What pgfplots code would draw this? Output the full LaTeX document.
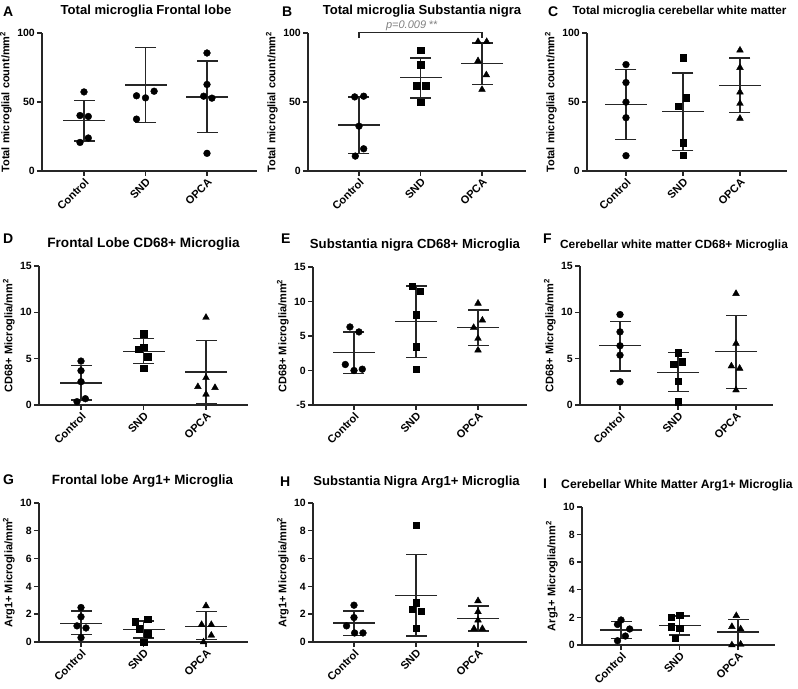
\documentclass[border=0pt]{standalone}
\usepackage{fontspec}
\setmainfont{Liberation Sans}
\usepackage{pgfplots}
\pgfplotsset{compat=1.18}
\colorlet{ink}{black!85}
\newcommand\fs[1]{\fontsize{#1bp}{#1bp}\selectfont\bfseries}
\pgfplotsset{
  gp/.style={
    scale only axis, clip=false, anchor=south west,
    axis lines=left, axis line style={-, line width=1.5bp, draw=ink},
    tick align=outside, major tick length=5bp,
    tick style={line width=1.4bp, draw=ink},
    xtick={1,2,3}, xticklabels={Control,SND,OPCA},
    xticklabel style={rotate=45, anchor=north east, inner sep=1bp, font=\fs{11}},
    yticklabel style={font=\fs{10.5}, inner sep=2bp},
    /pgf/number format/assume math mode=true,
    ylabel style={font=\fs{11}},
  },
  pC/.style={only marks, mark=*, mark size=3.4bp, mark options={fill=black, draw=black}},
  pS/.style={only marks, mark=square*, mark size=3.2bp, mark options={fill=black, draw=black}},
  pT/.style={only marks, mark=triangle*, mark size=3.9bp, mark options={fill=black, draw=black}},
  sdl/.style={ink, line width=1.3bp, mark=-, mark size=10.5bp, mark options={solid, line width=1.3bp}},
  meanl/.style={only marks, mark=-, mark size=21bp, mark options={ink, line width=1.3bp}},
}
% group: x, mean-SD, mean, mean+SD
\newcommand\grp[4]{%
  \addplot[sdl] coordinates {(#1,#2) (#1,#4)};
  \addplot[meanl] coordinates {(#1,#3)};
}
\begin{document}
\begin{tikzpicture}
\path[use as bounding box] (0,0) rectangle (798bp,689bp);

% ---- A
\begin{axis}[gp, at={(42bp,518bp)}, width=215bp, height=138bp,
  xmin=0.317, xmax=3.813, ymin=0, ymax=100, ytick={0,50,100},
  ylabel={Total microglial count/mm\textsuperscript{2}}]
\grp{1}{21.7}{36.4}{51.1}
\grp{2}{35.2}{62.4}{89.4}
\grp{3}{27.7}{53.7}{79.8}
\addplot[pC] coordinates {(1,57.3) (0.935,40.2) (1.07,39.5) (1.07,23.9) (0.935,20.7)};
\addplot[pC] coordinates {(1.854,54.5) (2,53) (2.14,57.8) (1.854,37.6)};
\addplot[pC] coordinates {(3,85.5) (3,62.7) (2.945,54.2) (3.08,52.8) (3,12.8)};
\end{axis}

% ---- B
\begin{axis}[gp, at={(308bp,518bp)}, width=218bp, height=138bp,
  xmin=0.171, xmax=3.715, ymin=0, ymax=100, ytick={0,50,100},
  ylabel={Total microglial count/mm\textsuperscript{2}}]
\grp{1}{12.8}{33.3}{53.7}
\grp{2}{52.8}{67.5}{81.9}
\grp{3}{62.9}{78.1}{92.8}
\addplot[pC] coordinates {(0.93,53.7) (1.076,54.2) (1,32.5) (1.076,16.1) (0.94,10.8)};
\addplot[pS] coordinates {(2,87.5) (2,77.1) (1.935,61.9) (2.087,61.9) (2,49.9)};
\addplot[pT] coordinates {(2.935,93.7) (3.076,93.7) (2.935,79.8) (3.07,69.6) (3,59)};
\addplot[ink, line width=1.2bp] coordinates {(1,96.2) (1,100.5) (3,100.5) (3,96.2)};
\node[anchor=base, text=black!50, font=\fontsize{11bp}{11bp}\selectfont] at (axis cs:1.86,102.9) {\textit{p=0.009} **};
\end{axis}

% ---- C
\begin{axis}[gp, at={(587bp,518bp)}, width=200bp, height=138bp,
  xmin=0.316, xmax=3.825, ymin=0, ymax=100, ytick={0,50,100},
  ylabel={Total microglial count/mm\textsuperscript{2}}]
\grp{1}{22.9}{48.2}{73.5}
\grp{2}{14.7}{42.9}{71.1}
\grp{3}{42.2}{62.2}{81.9}
\addplot[pC] coordinates {(1,77.1) (1,64.1) (1,49.9) (1,38.6) (1,11.1)};
\addplot[pS] coordinates {(2,82.2) (2.06,53) (1.92,47) (2,20.5) (2,11.3)};
\addplot[pT] coordinates {(3,87.5) (3,74.9) (3,57.1) (3,48.9) (3,38.1)};
\end{axis}

% ---- D
\begin{axis}[gp, at={(39bp,284bp)}, width=209bp, height=139bp,
  xmin=0.328, xmax=3.672, ymin=0, ymax=15, ytick={0,5,10,15},
  ylabel={CD68+ Microglia/mm\textsuperscript{2}}]
\grp{1}{0.54}{2.37}{4.27}
\grp{2}{4.49}{5.81}{7.18}
\grp{3}{0.18}{3.55}{6.93}
\addplot[pC] coordinates {(1,4.74) (1,3.7) (1,2.51) (1.07,0.68) (0.936,0.36)};
\addplot[pS] coordinates {(2,7.7) (1.92,6.0) (2,6.25) (2.065,5.2) (2,4.0)};
\addplot[pT] coordinates {(3,9.44) (3,2.94) (2.87,1.97) (3.144,1.87) (3,1.15)};
\end{axis}

% ---- E
\begin{axis}[gp, at={(313bp,284bp)}, width=214bp, height=138bp,
  xmin=0.339, xmax=3.79, ymin=-5, ymax=15, ytick={-5,0,5,10,15},
  ylabel={CD68+ Microglia/mm\textsuperscript{2}}]
\grp{1}{-0.48}{2.65}{5.59}
\grp{2}{1.88}{7.08}{12.24}
\grp{3}{3.66}{6.22}{8.77}
\addplot[pC] coordinates {(0.935,6.31) (1.08,5.59) (0.86,0.87) (1,0) (1.134,0.19)};
\addplot[pS] coordinates {(1.935,12.19) (2.07,11.52) (2,8.1) (2,3.42) (2,0.19)};
\addplot[pT] coordinates {(3,9.73) (3.07,7.28) (2.93,6.22) (3,4.63) (3,2.94)};
\end{axis}

% ---- F
\begin{axis}[gp, at={(580bp,284bp)}, width=193bp, height=139bp,
  xmin=0.31, xmax=3.638, ymin=0, ymax=15, ytick={0,5,10,15},
  ylabel={CD68+ Microglia/mm\textsuperscript{2}}]
\grp{1}{3.66}{6.39}{9.04}
\grp{2}{1.44}{3.52}{5.63}
\grp{3}{1.79}{5.74}{9.69}
\addplot[pC] coordinates {(1,9.76) (1,7.89) (1,6.39) (1,5.38) (1,2.51)};
\addplot[pS] coordinates {(2,5.63) (1.925,4.38) (2.07,4.66) (2,2.58) (2,0.36)};
\addplot[pT] coordinates {(3,12.02) (3,6.64) (2.92,4.2) (3.063,3.95) (3,1.61)};
\end{axis}

% ---- G
\begin{axis}[gp, at={(39bp,47bp)}, width=209bp, height=139bp,
  xmin=0.328, xmax=3.672, ymin=0, ymax=10, ytick={0,2,...,10},
  ylabel={Arg1+ Microglia/mm\textsuperscript{2}}]
\grp{1}{0.53}{1.35}{2.22}
\grp{2}{0.29}{0.92}{1.52}
\grp{3}{0.19}{1.13}{2.17}
\addplot[pC] coordinates {(1,2.48) (1,1.81) (0.936,1.16) (1.08,1.01) (1,0.31)};
\addplot[pS] coordinates {(1.867,1.45) (2.07,1.64) (1.93,0.96) (2.07,0.6) (2,0)};
\addplot[pT] coordinates {(3,2.6) (2.93,1.25) (3.085,1.25) (3.085,0.48) (2.96,0)};
\end{axis}

% ---- H
\begin{axis}[gp, at={(313bp,47bp)}, width=214bp, height=139bp,
  xmin=0.339, xmax=3.79, ymin=0, ymax=10, ytick={0,2,...,10},
  ylabel={Arg1+ Microglia/mm\textsuperscript{2}}]
\grp{1}{0.48}{1.37}{2.24}
\grp{2}{0.43}{3.37}{6.27}
\grp{3}{0.8}{1.69}{2.58}
\addplot[pC] coordinates {(1,2.65) (1,1.76) (0.88,1.16) (1.01,0.65) (1.145,0.65)};
\addplot[pS] coordinates {(2,8.39) (2,2.84) (1.94,2.36) (2.08,2.22) (2,1.01)};
\addplot[pT] coordinates {(3,2.96) (3,2.17) (3,1.57) (2.935,0.96) (3.07,0.96)};
\end{axis}

% ---- I
\begin{axis}[gp, at={(582bp,44bp)}, width=193bp, height=138bp,
  xmin=0.333, xmax=3.632, ymin=0, ymax=10, ytick={0,2,...,10},
  ylabel={Arg1+ Microglia/mm\textsuperscript{2}}]
\grp{1}{0.48}{1.08}{1.69}
\grp{2}{0.72}{1.4}{2.1}
\grp{3}{0.05}{0.94}{1.83}
\addplot[pC] coordinates {(1,1.81) (0.94,1.49) (1.148,1.16) (1.074,0.65) (0.94,0.31)};
\addplot[pS] coordinates {(1.86,2.0) (2,2.17) (1.86,1.33) (2,1.2) (1.93,0.48)};
\addplot[pT] coordinates {(2.97,2.12) (2.895,1.33) (3.045,1.16) (2.895,0) (3.045,0.05)};
\end{axis}

% ---- panel letters and titles
\node[anchor=base west, inner sep=0, font=\fs{14}] at (3bp,672bp) {A};
\node[anchor=base west, inner sep=0, font=\fs{14}] at (282bp,672bp) {B};
\node[anchor=base west, inner sep=0, font=\fs{14}] at (548bp,672bp) {C};
\node[anchor=base west, inner sep=0, font=\fs{14}] at (3bp,445.7bp) {D};
\node[anchor=base west, inner sep=0, font=\fs{14}] at (281bp,445.7bp) {E};
\node[anchor=base west, inner sep=0, font=\fs{14}] at (543bp,445.7bp) {F};
\node[anchor=base west, inner sep=0, font=\fs{14}] at (3bp,204bp) {G};
\node[anchor=base west, inner sep=0, font=\fs{14}] at (280bp,202.3bp) {H};
\node[anchor=base west, inner sep=0, font=\fs{14}] at (543bp,200.7bp) {I};

\node[anchor=base, inner sep=0, font=\fs{13.1}] at (146bp,674bp) {Total microglia Frontal lobe};
\node[anchor=base, inner sep=0, font=\fs{13.1}] at (422bp,674bp) {Total microglia Substantia nigra};
\node[anchor=base, inner sep=0, font=\fs{11.75}] at (679.5bp,674bp) {Total microglia cerebellar white matter};
\node[anchor=base, inner sep=0, font=\fs{13.6}] at (143.5bp,441.3bp) {Frontal Lobe CD68+ Microglia};
\node[anchor=base, inner sep=0, font=\fs{13.2}] at (415bp,440bp) {Substantia nigra CD68+ Microglia};
\node[anchor=base, inner sep=0, font=\fs{11.9}] at (674bp,440bp) {Cerebellar white matter CD68+ Microglia};
\node[anchor=base, inner sep=0, font=\fs{13.4}] at (142.5bp,204.7bp) {Frontal lobe Arg1+ Microglia};
\node[anchor=base, inner sep=0, font=\fs{13.1}] at (416.5bp,203.3bp) {Substantia Nigra Arg1+ Microglia};
\node[anchor=base, inner sep=0, font=\fs{12.2}] at (677bp,200.7bp) {Cerebellar White Matter Arg1+ Microglia};
\end{tikzpicture}
\end{document}
